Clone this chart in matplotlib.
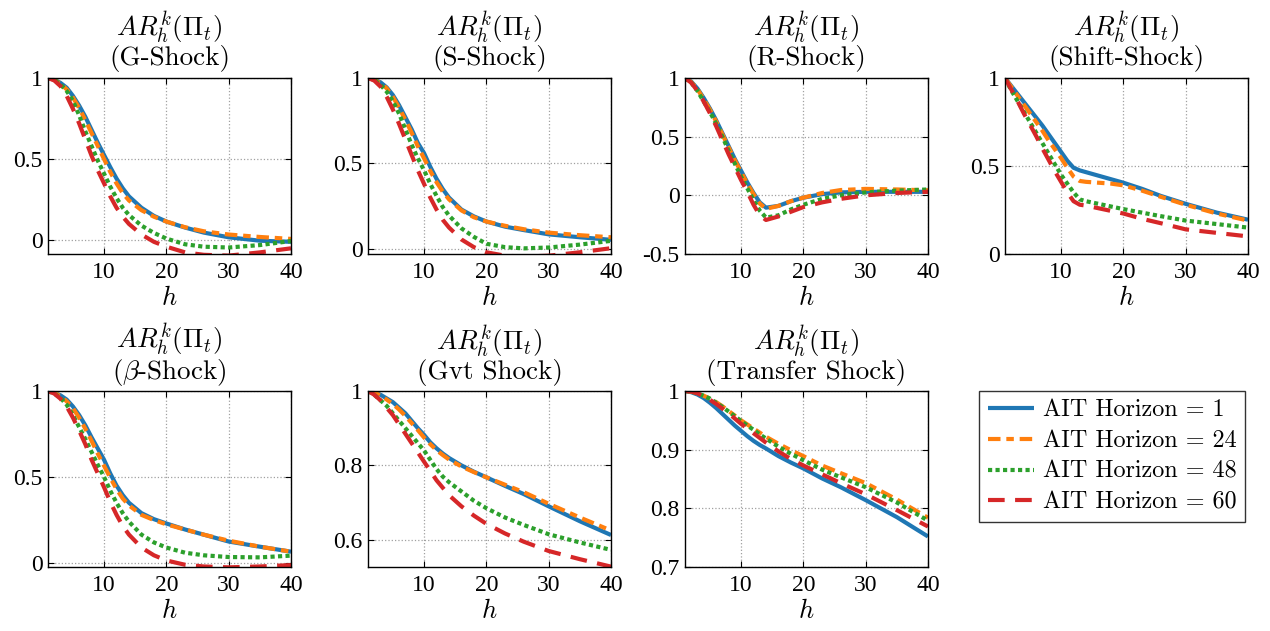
import matplotlib
matplotlib.use("Agg")
import matplotlib.pyplot as plt
import numpy as np

plt.rcParams['font.family'] = 'cmr10'
plt.rcParams['mathtext.fontset'] = 'cm'
plt.rcParams['axes.formatter.use_mathtext'] = True
plt.rcParams['axes.unicode_minus'] = False

# horizon grid (h) at which values were read
h = [1, 2, 3, 4, 5, 6, 7, 8, 9, 10, 11, 12, 13, 14, 16, 18, 20, 23, 26, 30, 35, 40]

labels = ["AIT Horizon = 1", "AIT Horizon = 24", "AIT Horizon = 48", "AIT Horizon = 60"]
shocks = ["G-Shock", "S-Shock", "R-Shock", "Shift-Shock", r"$\beta$-Shock", "Gvt Shock", "Transfer Shock"]

g_ait1 = [1.0, 0.99, 0.97, 0.94, 0.89, 0.83, 0.76, 0.68, 0.60, 0.525, 0.45, 0.38, 0.32, 0.27, 0.2, 0.15, 0.115, 0.078, 0.047, 0.018, -0.003, -0.01]
g_ait24 = [1.0, 0.99, 0.965, 0.93, 0.88, 0.815, 0.74, 0.66, 0.58, 0.50, 0.42, 0.35, 0.29, 0.245, 0.185, 0.145, 0.115, 0.08, 0.055, 0.035, 0.02, 0.008]
g_ait48 = [1.0, 0.99, 0.96, 0.92, 0.86, 0.77, 0.67, 0.58, 0.49, 0.41, 0.33, 0.26, 0.20, 0.155, 0.09, 0.045, 0.01, -0.025, -0.04, -0.045, -0.03, -0.005]
g_ait60 = [1.0, 0.985, 0.95, 0.89, 0.81, 0.72, 0.62, 0.52, 0.43, 0.35, 0.27, 0.20, 0.145, 0.10, 0.035, -0.01, -0.04, -0.075, -0.09, -0.095, -0.075, -0.05]

s_ait1 = [1.0, 0.99, 0.975, 0.945, 0.90, 0.84, 0.77, 0.70, 0.62, 0.56, 0.48, 0.41, 0.35, 0.30, 0.23, 0.19, 0.16, 0.13, 0.11, 0.085, 0.068, 0.053]
s_ait24 = [1.0, 0.99, 0.97, 0.94, 0.89, 0.825, 0.755, 0.68, 0.60, 0.53, 0.455, 0.39, 0.335, 0.29, 0.225, 0.185, 0.16, 0.135, 0.115, 0.095, 0.08, 0.068]
s_ait48 = [1.0, 0.99, 0.96, 0.92, 0.865, 0.79, 0.70, 0.61, 0.53, 0.46, 0.38, 0.31, 0.245, 0.195, 0.12, 0.07, 0.03, 0.01, 0.003, 0.008, 0.025, 0.047]
s_ait60 = [1.0, 0.985, 0.95, 0.89, 0.815, 0.73, 0.64, 0.55, 0.46, 0.38, 0.30, 0.23, 0.17, 0.125, 0.055, 0.01, -0.02, -0.04, -0.045, -0.04, -0.02, 0.004]

r_ait1 = [1.0, 0.97, 0.91, 0.83, 0.74, 0.64, 0.53, 0.42, 0.31, 0.21, 0.11, 0.02, -0.06, -0.105, -0.09, -0.05, -0.02, 0.01, 0.025, 0.03, 0.03, 0.03]
r_ait24 = [1.0, 0.965, 0.905, 0.82, 0.73, 0.63, 0.52, 0.41, 0.30, 0.20, 0.10, 0.01, -0.07, -0.115, -0.09, -0.05, -0.02, 0.02, 0.045, 0.055, 0.05, 0.043]
r_ait48 = [1.0, 0.96, 0.89, 0.80, 0.71, 0.61, 0.50, 0.38, 0.27, 0.16, 0.06, -0.04, -0.13, -0.19, -0.17, -0.12, -0.08, -0.03, 0.0, 0.025, 0.04, 0.05]
r_ait60 = [1.0, 0.96, 0.89, 0.80, 0.70, 0.59, 0.47, 0.35, 0.24, 0.13, 0.03, -0.08, -0.17, -0.21, -0.18, -0.14, -0.10, -0.06, -0.03, 0.0, 0.02, 0.03]

shift_ait1 = [1.0, 0.955, 0.91, 0.865, 0.82, 0.775, 0.73, 0.68, 0.63, 0.58, 0.53, 0.49, 0.475, 0.465, 0.445, 0.425, 0.405, 0.37, 0.33, 0.285, 0.235, 0.195]
shift_ait24 = [1.0, 0.95, 0.90, 0.85, 0.80, 0.75, 0.70, 0.645, 0.595, 0.545, 0.49, 0.44, 0.415, 0.41, 0.405, 0.40, 0.39, 0.36, 0.325, 0.28, 0.23, 0.19]
shift_ait48 = [1.0, 0.93, 0.87, 0.81, 0.75, 0.69, 0.63, 0.57, 0.51, 0.45, 0.40, 0.35, 0.31, 0.30, 0.285, 0.27, 0.255, 0.235, 0.215, 0.19, 0.17, 0.15]
shift_ait60 = [1.0, 0.935, 0.87, 0.80, 0.735, 0.67, 0.60, 0.535, 0.47, 0.41, 0.35, 0.30, 0.28, 0.275, 0.26, 0.245, 0.23, 0.2, 0.175, 0.14, 0.12, 0.10]

beta_ait1 = [1.0, 0.99, 0.975, 0.95, 0.91, 0.86, 0.80, 0.73, 0.665, 0.60, 0.52, 0.45, 0.395, 0.35, 0.29, 0.255, 0.23, 0.195, 0.165, 0.125, 0.095, 0.066]
beta_ait24 = [1.0, 0.99, 0.97, 0.94, 0.90, 0.845, 0.78, 0.71, 0.635, 0.565, 0.495, 0.43, 0.375, 0.335, 0.28, 0.25, 0.225, 0.195, 0.165, 0.13, 0.095, 0.066]
beta_ait48 = [1.0, 0.985, 0.96, 0.92, 0.86, 0.79, 0.72, 0.645, 0.57, 0.50, 0.42, 0.35, 0.29, 0.24, 0.165, 0.12, 0.09, 0.06, 0.045, 0.035, 0.033, 0.043]
beta_ait60 = [1.0, 0.985, 0.955, 0.91, 0.845, 0.77, 0.69, 0.60, 0.52, 0.44, 0.355, 0.28, 0.215, 0.165, 0.09, 0.045, 0.015, -0.01, -0.02, -0.025, -0.02, -0.012]

gvt_ait1 = [1.0, 0.997, 0.99, 0.98, 0.97, 0.955, 0.94, 0.92, 0.90, 0.882, 0.862, 0.846, 0.832, 0.82, 0.80, 0.783, 0.768, 0.745, 0.723, 0.69, 0.65, 0.613]
gvt_ait24 = [1.0, 0.996, 0.988, 0.977, 0.965, 0.95, 0.933, 0.914, 0.895, 0.875, 0.857, 0.841, 0.828, 0.816, 0.797, 0.782, 0.768, 0.748, 0.728, 0.697, 0.66, 0.625]
gvt_ait48 = [1.0, 0.99, 0.975, 0.96, 0.94, 0.92, 0.9, 0.88, 0.86, 0.84, 0.815, 0.79, 0.77, 0.755, 0.73, 0.705, 0.685, 0.66, 0.64, 0.615, 0.593, 0.573]
gvt_ait60 = [1.0, 0.99, 0.975, 0.955, 0.935, 0.91, 0.885, 0.86, 0.835, 0.81, 0.785, 0.76, 0.74, 0.72, 0.69, 0.665, 0.643, 0.617, 0.595, 0.57, 0.548, 0.528]

tr_ait1 = [1.0, 0.998, 0.994, 0.988, 0.98, 0.971, 0.961, 0.951, 0.941, 0.932, 0.923, 0.915, 0.908, 0.902, 0.889, 0.878, 0.868, 0.851, 0.836, 0.814, 0.785, 0.752]
tr_ait24 = [1.0, 0.999, 0.996, 0.992, 0.987, 0.981, 0.974, 0.966, 0.958, 0.95, 0.943, 0.936, 0.929, 0.922, 0.91, 0.899, 0.889, 0.873, 0.86, 0.843, 0.815, 0.784]
tr_ait48 = [1.0, 0.999, 0.996, 0.992, 0.987, 0.98, 0.973, 0.965, 0.957, 0.949, 0.941, 0.934, 0.926, 0.919, 0.905, 0.893, 0.882, 0.866, 0.853, 0.836, 0.81, 0.779]
tr_ait60 = [1.0, 0.999, 0.996, 0.991, 0.985, 0.978, 0.97, 0.962, 0.953, 0.944, 0.936, 0.928, 0.92, 0.912, 0.897, 0.884, 0.873, 0.858, 0.843, 0.824, 0.797, 0.769]

panels = [
    (g_ait1, g_ait24, g_ait48, g_ait60),
    (s_ait1, s_ait24, s_ait48, s_ait60),
    (r_ait1, r_ait24, r_ait48, r_ait60),
    (shift_ait1, shift_ait24, shift_ait48, shift_ait60),
    (beta_ait1, beta_ait24, beta_ait48, beta_ait60),
    (gvt_ait1, gvt_ait24, gvt_ait48, gvt_ait60),
    (tr_ait1, tr_ait24, tr_ait48, tr_ait60),
]
ylims = [(-0.085, 1), (-0.03, 1), (-0.5, 1), (0, 1), (-0.023, 1), (0.527, 1), (0.7, 1)]
yticks = [[0, 0.5, 1], [0, 0.5, 1], [-0.5, 0, 0.5, 1], [0, 0.5, 1],
          [0, 0.5, 1], [0.6, 0.8, 1], [0.7, 0.8, 0.9, 1]]

colors = ['#1f77b4', '#ff7f0e', '#2ca02c', '#d62728']
styles = [(0, ()), (0, (3.0, 1.4, 1.8, 1.4)), (0, (1.0, 0.8)), (0, (4.0, 2.5))]

fig = plt.figure(figsize=(12.7, 6.31), dpi=100)
W, H = 1270, 631
lefts = [48, 368, 685, 1005]
width = 243
tops = [78, 391]
height = 176
tickfont = {'family': 'Liberation Serif', 'size': 17}

handles = []
for i, series in enumerate(panels):
    r, c = divmod(i, 4)
    ax = fig.add_axes([lefts[c] / W, 1 - (tops[r] + height) / H, width / W, height / H])
    for k, y in enumerate(series):
        ln, = ax.plot(h, y, color=colors[k], linestyle=styles[k], lw=3.0,
                      label=labels[k])
        if i == 0:
            handles.append(ln)
    ax.set_xlim(1, 40)
    ax.set_ylim(*ylims[i])
    ax.set_xticks([10, 20, 30, 40])
    ax.set_xticklabels(["10", "20", "30", "40"], fontdict=tickfont)
    ax.set_yticks(yticks[i])
    ax.set_yticklabels([f"{v:g}" for v in yticks[i]], fontdict=tickfont)
    ax.tick_params(direction='in', top=True, right=True, length=4, width=0.8,
                   pad=4)
    ax.tick_params(axis='x', pad=6)
    ax.grid(True, linestyle=':', color='#a0a0a0', lw=0.9)
    for sp in ax.spines.values():
        sp.set_linewidth(1.0)
    ax.set_title(r"$AR_h^k(\Pi_t)$" + "\n(" + shocks[i] + ")", fontsize=19.5,
                 pad=9, linespacing=0.95)
    ax.set_xlabel(r"$h$", fontsize=19, labelpad=2)

leg = fig.legend(handles=handles, loc='center',
                 bbox_to_anchor=(1112 / W, 1 - 456.5 / H), fontsize=17.4,
                 frameon=True, fancybox=False, edgecolor='black',
                 handlelength=1.9, handletextpad=0.37, labelspacing=0.36,
                 borderpad=0.35, borderaxespad=0)
leg.get_frame().set_linewidth(1.0)

fig.savefig("out.png", dpi=100)
